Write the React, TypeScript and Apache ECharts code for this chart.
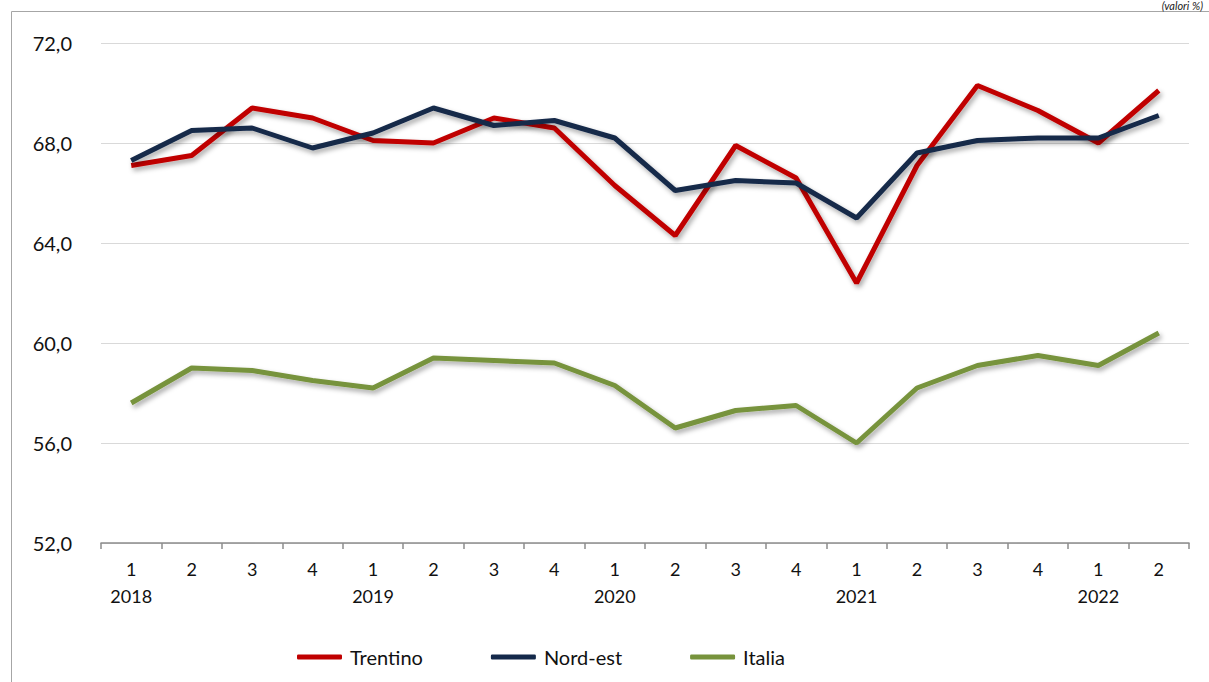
import React, { useEffect, useRef } from "react";
import * as echarts from "echarts";

const quarters = ["1", "2", "3", "4", "1", "2", "3", "4", "1", "2", "3", "4", "1", "2", "3", "4", "1", "2"];
const years = ["2018", "", "", "", "2019", "", "", "", "2020", "", "", "", "2021", "", "", "", "2022", ""];
const trentino = [67.1, 67.5, 69.4, 69.0, 68.1, 68.0, 69.0, 68.6, 66.3, 64.3, 67.9, 66.6, 62.4, 67.1, 70.3, 69.3, 68.0, 70.1];
const nordEst = [67.3, 68.5, 68.6, 67.8, 68.4, 69.4, 68.7, 68.9, 68.2, 66.1, 66.5, 66.4, 65.0, 67.6, 68.1, 68.2, 68.2, 69.1];
const italia = [57.6, 59.0, 58.9, 58.5, 58.2, 59.4, 59.3, 59.2, 58.3, 56.6, 57.3, 57.5, 56.0, 58.2, 59.1, 59.5, 59.1, 60.4];
const yTicks = { min: 52, max: 72, interval: 4 };

const FONT = "Lato, 'Open Sans', sans-serif";

export default function App() {
  const ref = useRef<HTMLDivElement>(null);
  useEffect(() => {
    if (!ref.current) return;
    const chart = echarts.init(ref.current, null, { renderer: "svg" });
    const categories = quarters.map((q, i) => (years[i] ? q + "\n" + years[i] : q));
    const mk = (name: string, data: number[], color: string) => ({
      name,
      type: "line",
      data,
      symbol: "none",
      lineStyle: {
        width: 5,
        color,
        shadowColor: "rgba(0,0,0,0.35)",
        shadowBlur: 5,
        shadowOffsetX: 2,
        shadowOffsetY: 3,
      },
      itemStyle: { color },
    });
    chart.setOption({
      animation: false,
      backgroundColor: "#ffffff",
      graphic: [
        {
          type: "rect",
          shape: { x: 11.5, y: 11.5, width: 1300, height: 800 },
          style: { fill: "none", stroke: "#a6a6a6", lineWidth: 1 },
          silent: true,
        },
        {
          type: "text",
          right: 6,
          top: 0,
          style: {
            text: "(valori %)",
            font: "italic 11px " + FONT,
            fill: "#222",
          },
        },
      ],
      grid: { left: 101, right: 20, top: 43, bottom: 139, containLabel: false },
      legend: {
        bottom: 10,
        left: 292,
        itemWidth: 45,
        itemHeight: 5,
        itemGap: 68,
        icon: "roundRect",
        textStyle: { fontFamily: FONT, fontSize: 20, color: "#111", padding: [0, 0, 0, 3] },
        data: ["Trentino", "Nord-est", "Italia"],
      },
      xAxis: {
        type: "category",
        data: categories,
        boundaryGap: true,
        axisLine: { lineStyle: { color: "#8c8c8c", width: 1.5 } },
        axisTick: { show: true, length: 6, lineStyle: { color: "#8c8c8c", width: 1.5 } },
        axisLabel: {
          fontFamily: FONT,
          fontSize: 18,
          color: "#111",
          margin: 12,
          lineHeight: 27,
          interval: 0,
        },
      },
      yAxis: {
        type: "value",
        min: yTicks.min,
        max: yTicks.max,
        interval: yTicks.interval,
        axisLine: { show: false },
        axisTick: { show: false },
        splitLine: { lineStyle: { color: "#d9d9d9", width: 1 } },
        axisLabel: {
          fontFamily: FONT,
          fontSize: 20,
          color: "#111",
          margin: 29,
          formatter: (v: number) => v.toFixed(1).replace(".", ","),
        },
      },
      series: [
        mk("Trentino", trentino, "#C00000"),
        mk("Nord-est", nordEst, "#14294A"),
        mk("Italia", italia, "#77933C"),
      ],
    });
    return () => chart.dispose();
  }, []);
  return (
    <div
      ref={ref}
      style={{ position: "fixed", left: 0, top: 0, width: 1209, height: 682 }}
    />
  );
}
